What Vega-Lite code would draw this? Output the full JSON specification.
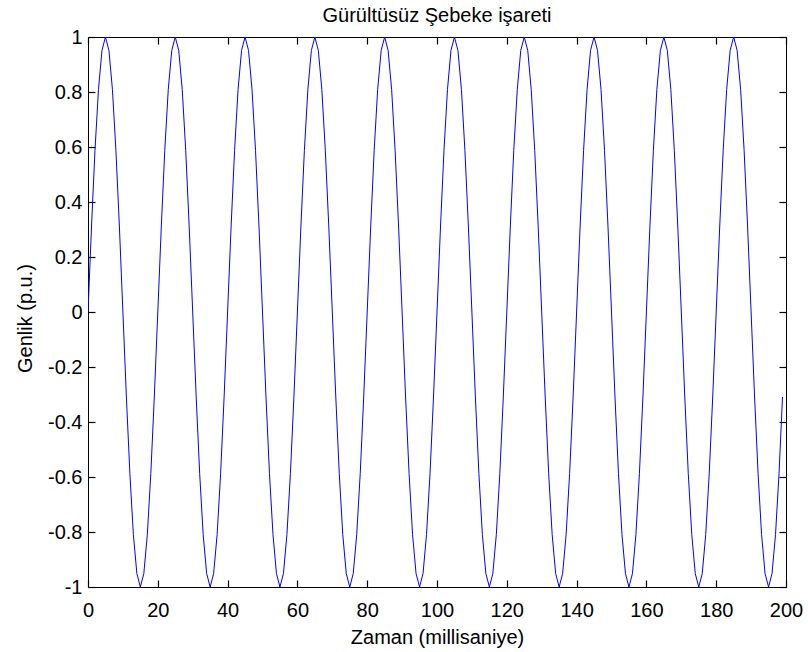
{
"$schema": "https://vega.github.io/schema/vega-lite/v6.json",
"autosize": {"type": "none"},
"padding": {"left": 88, "top": 37, "right": 22, "bottom": 65},
"width": 698,
"height": 550,
"background": "white",
"config": {
  "view": {"stroke": "black", "strokeWidth": 1},
  "font": "Liberation Sans",
  "axis": {"domain": false, "tickColor": "black", "labelColor": "black", "titleColor": "black", "labelFont": "Liberation Sans", "titleFont": "Liberation Sans", "labelFontSize": 20, "titleFontSize": 20, "titleFontWeight": "normal", "grid": false, "tickSize": 7, "offset": -7, "tickWidth": 1.2, "zindex": 2}
},
"title": {"text": "Gürültüsüz Şebeke işareti", "font": "Liberation Sans", "fontSize": 20, "fontWeight": "normal", "color": "black", "baseline": "alphabetic", "offset": 0, "dy": 15},
"data": {"values": [
{"t":0,"v":0},{"t":1,"v":0.309},{"t":2,"v":0.5878},{"t":3,"v":0.809},{"t":4,"v":0.9511},{"t":5,"v":1},{"t":6,"v":0.9511},{"t":7,"v":0.809},{"t":8,"v":0.5878},{"t":9,"v":0.309},{"t":10,"v":0},{"t":11,"v":-0.309},{"t":12,"v":-0.5878},{"t":13,"v":-0.809},{"t":14,"v":-0.9511},{"t":15,"v":-1},{"t":16,"v":-0.9511},{"t":17,"v":-0.809},{"t":18,"v":-0.5878},{"t":19,"v":-0.309},
{"t":20,"v":0},{"t":21,"v":0.309},{"t":22,"v":0.5878},{"t":23,"v":0.809},{"t":24,"v":0.9511},{"t":25,"v":1},{"t":26,"v":0.9511},{"t":27,"v":0.809},{"t":28,"v":0.5878},{"t":29,"v":0.309},{"t":30,"v":0},{"t":31,"v":-0.309},{"t":32,"v":-0.5878},{"t":33,"v":-0.809},{"t":34,"v":-0.9511},{"t":35,"v":-1},{"t":36,"v":-0.9511},{"t":37,"v":-0.809},{"t":38,"v":-0.5878},{"t":39,"v":-0.309},
{"t":40,"v":0},{"t":41,"v":0.309},{"t":42,"v":0.5878},{"t":43,"v":0.809},{"t":44,"v":0.9511},{"t":45,"v":1},{"t":46,"v":0.9511},{"t":47,"v":0.809},{"t":48,"v":0.5878},{"t":49,"v":0.309},{"t":50,"v":0},{"t":51,"v":-0.309},{"t":52,"v":-0.5878},{"t":53,"v":-0.809},{"t":54,"v":-0.9511},{"t":55,"v":-1},{"t":56,"v":-0.9511},{"t":57,"v":-0.809},{"t":58,"v":-0.5878},{"t":59,"v":-0.309},
{"t":60,"v":0},{"t":61,"v":0.309},{"t":62,"v":0.5878},{"t":63,"v":0.809},{"t":64,"v":0.9511},{"t":65,"v":1},{"t":66,"v":0.9511},{"t":67,"v":0.809},{"t":68,"v":0.5878},{"t":69,"v":0.309},{"t":70,"v":0},{"t":71,"v":-0.309},{"t":72,"v":-0.5878},{"t":73,"v":-0.809},{"t":74,"v":-0.9511},{"t":75,"v":-1},{"t":76,"v":-0.9511},{"t":77,"v":-0.809},{"t":78,"v":-0.5878},{"t":79,"v":-0.309},
{"t":80,"v":0},{"t":81,"v":0.309},{"t":82,"v":0.5878},{"t":83,"v":0.809},{"t":84,"v":0.9511},{"t":85,"v":1},{"t":86,"v":0.9511},{"t":87,"v":0.809},{"t":88,"v":0.5878},{"t":89,"v":0.309},{"t":90,"v":0},{"t":91,"v":-0.309},{"t":92,"v":-0.5878},{"t":93,"v":-0.809},{"t":94,"v":-0.9511},{"t":95,"v":-1},{"t":96,"v":-0.9511},{"t":97,"v":-0.809},{"t":98,"v":-0.5878},{"t":99,"v":-0.309},
{"t":100,"v":0},{"t":101,"v":0.309},{"t":102,"v":0.5878},{"t":103,"v":0.809},{"t":104,"v":0.9511},{"t":105,"v":1},{"t":106,"v":0.9511},{"t":107,"v":0.809},{"t":108,"v":0.5878},{"t":109,"v":0.309},{"t":110,"v":0},{"t":111,"v":-0.309},{"t":112,"v":-0.5878},{"t":113,"v":-0.809},{"t":114,"v":-0.9511},{"t":115,"v":-1},{"t":116,"v":-0.9511},{"t":117,"v":-0.809},{"t":118,"v":-0.5878},{"t":119,"v":-0.309},
{"t":120,"v":0},{"t":121,"v":0.309},{"t":122,"v":0.5878},{"t":123,"v":0.809},{"t":124,"v":0.9511},{"t":125,"v":1},{"t":126,"v":0.9511},{"t":127,"v":0.809},{"t":128,"v":0.5878},{"t":129,"v":0.309},{"t":130,"v":0},{"t":131,"v":-0.309},{"t":132,"v":-0.5878},{"t":133,"v":-0.809},{"t":134,"v":-0.9511},{"t":135,"v":-1},{"t":136,"v":-0.9511},{"t":137,"v":-0.809},{"t":138,"v":-0.5878},{"t":139,"v":-0.309},
{"t":140,"v":0},{"t":141,"v":0.309},{"t":142,"v":0.5878},{"t":143,"v":0.809},{"t":144,"v":0.9511},{"t":145,"v":1},{"t":146,"v":0.9511},{"t":147,"v":0.809},{"t":148,"v":0.5878},{"t":149,"v":0.309},{"t":150,"v":0},{"t":151,"v":-0.309},{"t":152,"v":-0.5878},{"t":153,"v":-0.809},{"t":154,"v":-0.9511},{"t":155,"v":-1},{"t":156,"v":-0.9511},{"t":157,"v":-0.809},{"t":158,"v":-0.5878},{"t":159,"v":-0.309},
{"t":160,"v":0},{"t":161,"v":0.309},{"t":162,"v":0.5878},{"t":163,"v":0.809},{"t":164,"v":0.9511},{"t":165,"v":1},{"t":166,"v":0.9511},{"t":167,"v":0.809},{"t":168,"v":0.5878},{"t":169,"v":0.309},{"t":170,"v":0},{"t":171,"v":-0.309},{"t":172,"v":-0.5878},{"t":173,"v":-0.809},{"t":174,"v":-0.9511},{"t":175,"v":-1},{"t":176,"v":-0.9511},{"t":177,"v":-0.809},{"t":178,"v":-0.5878},{"t":179,"v":-0.309},
{"t":180,"v":0},{"t":181,"v":0.309},{"t":182,"v":0.5878},{"t":183,"v":0.809},{"t":184,"v":0.9511},{"t":185,"v":1},{"t":186,"v":0.9511},{"t":187,"v":0.809},{"t":188,"v":0.5878},{"t":189,"v":0.309},{"t":190,"v":0},{"t":191,"v":-0.309},{"t":192,"v":-0.5878},{"t":193,"v":-0.809},{"t":194,"v":-0.9511},{"t":195,"v":-1},{"t":196,"v":-0.9511},{"t":197,"v":-0.809},{"t":198,"v":-0.5878},{"t":199,"v":-0.309}
]},
"layer": [
  {
    "mark": {"type": "line", "color": "#0000ff", "strokeWidth": 1, "clip": true},
    "encoding": {
      "x": {"field": "t", "type": "quantitative", "scale": {"domain": [0, 200], "nice": false, "zero": false},
            "axis": {"orient": "bottom", "values": [0,20,40,60,80,100,120,140,160,180,200], "labelExpr": "'' + datum.value", "title": "Zaman (millisaniye)", "titleBaseline": "alphabetic", "titleY": 63, "labelPadding": 13, "labelFlush": false, "labelOverlap": false}},
      "y": {"field": "v", "type": "quantitative", "scale": {"domain": [-1, 1], "nice": false, "zero": false},
            "axis": {"orient": "left", "values": [-1,-0.8,-0.6,-0.4,-0.2,0,0.2,0.4,0.6,0.8,1], "labelExpr": "'' + datum.value", "title": "Genlik (p.u.)", "titleBaseline": "alphabetic", "titleX": -64, "titleY": 281, "labelPadding": 6, "labelFlush": false, "labelOverlap": false}}
    }
  },
  {
    "mark": {"type": "line", "opacity": 0},
    "encoding": {
      "x": {"field": "t", "type": "quantitative", "axis": {"orient": "top", "values": [0,20,40,60,80,100,120,140,160,180,200], "labels": false, "title": null}},
      "y": {"field": "v", "type": "quantitative", "axis": {"orient": "right", "values": [-1,-0.8,-0.6,-0.4,-0.2,0,0.2,0.4,0.6,0.8,1], "labels": false, "title": null}}
    }
  }
],
"resolve": {"axis": {"x": "independent", "y": "independent"}}
}
